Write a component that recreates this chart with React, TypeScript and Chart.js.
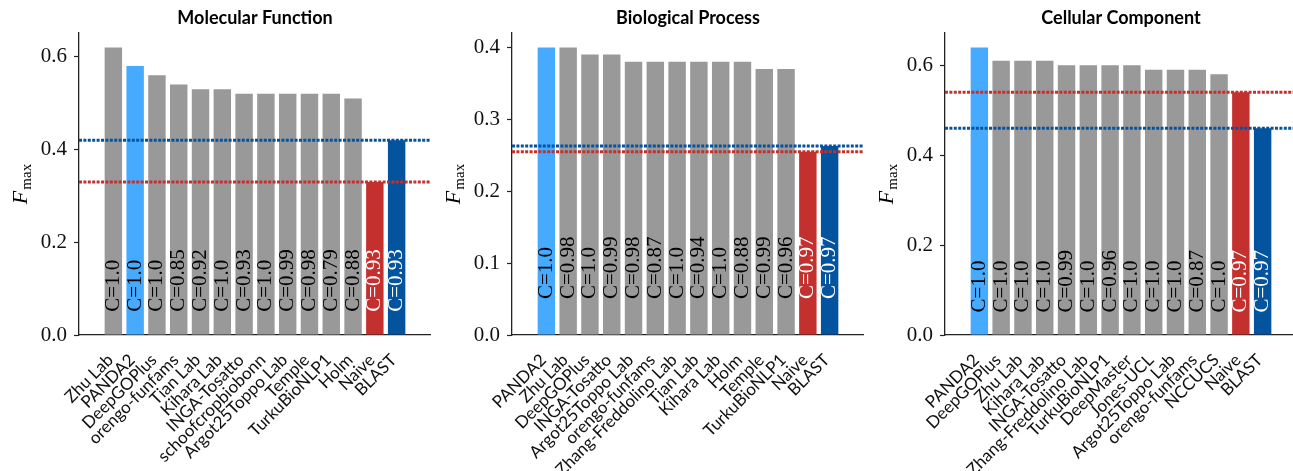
import React, { useEffect, useRef } from "react";
import { Chart, registerables } from "chart.js";
Chart.register(...registerables);

// ---------- data ----------
const mfMethods = ["Zhu Lab", "PANDA2", "DeepGOPlus", "orengo-funfams", "Tian Lab", "Kihara Lab", "INGA-Tosatto", "schoofcropbiobonn", "Argot25Toppo Lab", "Temple", "TurkuBioNLP1", "Holm", "Naive", "BLAST"];
const mfFmax = [0.62, 0.58, 0.56, 0.54, 0.53, 0.53, 0.52, 0.52, 0.52, 0.52, 0.52, 0.51, 0.33, 0.42];
const mfCoverage = ["1.0", "1.0", "1.0", "0.85", "0.92", "1.0", "0.93", "1.0", "0.99", "0.98", "0.79", "0.88", "0.93", "0.93"];
const mfTicks = [0, 0.2, 0.4, 0.6];

const bpMethods = ["PANDA2", "Zhu Lab", "DeepGOPlus", "INGA-Tosatto", "Argot25Toppo Lab", "orengo-funfams", "Zhang-Freddolino Lab", "Tian Lab", "Kihara Lab", "Holm", "Temple", "TurkuBioNLP1", "Naive", "BLAST"];
const bpFmax = [0.4, 0.4, 0.39, 0.39, 0.38, 0.38, 0.38, 0.38, 0.38, 0.38, 0.37, 0.37, 0.255, 0.263];
const bpCoverage = ["1.0", "0.98", "1.0", "0.99", "0.98", "0.87", "1.0", "0.94", "1.0", "0.88", "0.99", "0.96", "0.97", "0.97"];
const bpTicks = [0, 0.1, 0.2, 0.3, 0.4];

const ccMethods = ["PANDA2", "DeepGOPlus", "Zhu Lab", "Kihara Lab", "INGA-Tosatto", "Zhang-Freddolino Lab", "TurkuBioNLP1", "DeepMaster", "Jones-UCL", "Argot25Toppo Lab", "orengo-funfams", "NCCUCS", "Naive", "BLAST"];
const ccFmax = [0.64, 0.61, 0.61, 0.61, 0.6, 0.6, 0.6, 0.6, 0.59, 0.59, 0.59, 0.58, 0.54, 0.46];
const ccCoverage = ["1.0", "1.0", "1.0", "1.0", "0.99", "1.0", "0.96", "1.0", "1.0", "1.0", "0.87", "1.0", "0.97", "0.97"];
const ccTicks = [0, 0.2, 0.4, 0.6];

// ---------- styles ----------
const GRAY = "#999999";
const PANDA_BLUE = "#46aaff";
const NAIVE_RED = "#c4302e";
const BLAST_BLUE = "#03539e";
const AXIS = "#222222";
const SERIF = "'Liberation Serif', 'DejaVu Serif', serif";
const SANS = "Lato, 'Liberation Sans', sans-serif";

const Y_AXIS_W = 79;
const PLOT_W = 352;
const CANVAS_W = Y_AXIS_W + PLOT_W;
const CANVAS_H = 471;
const PLOT_TOP = 33;
const PLOT_BOTTOM = 335;

function colorFor(name: string) {
  if (name === "PANDA2") return PANDA_BLUE;
  if (name === "Naive") return NAIVE_RED;
  if (name === "BLAST") return BLAST_BLUE;
  return GRAY;
}

type PanelProps = {
  title: string;
  methods: string[];
  fmax: number[];
  coverage: string[];
  ticks: number[];
  left: number;
};

function Panel({ title, methods, fmax, coverage, ticks, left }: PanelProps) {
  const ref = useRef<HTMLCanvasElement | null>(null);
  useEffect(() => {
    const canvas = ref.current;
    if (!canvas) return;
    const yMax = Math.max(...fmax) * 1.05;
    const naiveVal = fmax[methods.indexOf("Naive")];
    const blastVal = fmax[methods.indexOf("BLAST")];

    const overlay = {
      id: "overlay",
      afterDatasetsDraw(chart: any) {
        const { ctx, chartArea, scales } = chart;
        const ys = scales.y;
        const drawLine = (v: number, color: string) => {
          const py = ys.getPixelForValue(v);
          ctx.save();
          ctx.strokeStyle = color;
          ctx.lineWidth = 3;
          ctx.setLineDash([3, 1.4]);
          ctx.beginPath();
          ctx.moveTo(chartArea.left, py);
          ctx.lineTo(chartArea.right, py);
          ctx.stroke();
          ctx.restore();
        };
        drawLine(blastVal, BLAST_BLUE);
        drawLine(naiveVal, NAIVE_RED);
        const meta = chart.getDatasetMeta(0);
        const yText = ys.getPixelForValue(0.05);
        meta.data.forEach((bar: any, i: number) => {
          const name = methods[i];
          ctx.save();
          ctx.translate(bar.x - 1, yText);
          ctx.rotate(-Math.PI / 2);
          ctx.font = `21px ${SERIF}`;
          ctx.fillStyle = name === "Naive" || name === "BLAST" ? "#ffffff" : "#000000";
          ctx.textAlign = "left";
          ctx.textBaseline = "middle";
          ctx.fillText("C=" + coverage[i], 0, 1);
          ctx.restore();
        });
      },
      afterDraw(chart: any) {
        const { ctx, chartArea } = chart;
        ctx.save();
        ctx.font = `bold 18px ${SANS}`;
        ctx.fillStyle = "#000";
        ctx.textAlign = "center";
        ctx.textBaseline = "middle";
        ctx.fillText(title, (chartArea.left + chartArea.right) / 2, 18);
        ctx.restore();
        ctx.save();
        const cx = chartArea.left - 57;
        const cy = (chartArea.top + chartArea.bottom) / 2;
        ctx.translate(cx, cy);
        ctx.rotate(-Math.PI / 2);
        ctx.fillStyle = "#000";
        ctx.textBaseline = "alphabetic";
        ctx.textAlign = "left";
        const fFont = `italic 22px ${SERIF}`;
        const sFont = `15px ${SERIF}`;
        ctx.font = fFont;
        const wF = ctx.measureText("F").width;
        ctx.font = sFont;
        const wS = ctx.measureText("max").width;
        const total = wF + wS + 1;
        ctx.font = fFont;
        ctx.fillText("F", -total / 2, 5);
        ctx.font = sFont;
        ctx.fillText("max", -total / 2 + wF + 1, 9);
        ctx.restore();
      },
    };

    const chart = new Chart(canvas, {
      type: "bar",
      data: {
        datasets: [
          {
            data: fmax.map((v, i) => ({ x: i, y: v })),
            backgroundColor: methods.map(colorFor),
            borderWidth: 0,
            barPercentage: 0.8,
            categoryPercentage: 1,
          },
        ],
      },
      options: {
        responsive: false,
        animation: false,
        devicePixelRatio: 1,
        layout: { padding: { top: PLOT_TOP, left: 0, right: 0, bottom: 0 } },
        plugins: { legend: { display: false }, tooltip: { enabled: false }, title: { display: false } },
        scales: {
          x: {
            type: "linear",
            min: -1,
            max: methods.length,
            afterBuildTicks: (scale: any) => {
              scale.ticks = methods.map((_, i) => ({ value: i }));
            },
            afterFit: (scale: any) => {
              scale.height = CANVAS_H - PLOT_BOTTOM;
            },
            grid: { display: false },
            border: { display: true, color: AXIS, width: 1.3 },
            ticks: {
              autoSkip: false,
              minRotation: 45,
              maxRotation: 45,
              padding: 7,
              labelOffset: -3,
              color: "#111",
              font: { family: SANS, size: 17 },
              callback: (v: any) => methods[Math.round(Number(v))] ?? "",
            },
          },
          y: {
            type: "linear",
            min: 0,
            max: yMax,
            afterBuildTicks: (scale: any) => {
              scale.ticks = ticks.map((t) => ({ value: t }));
            },
            afterFit: (scale: any) => {
              scale.width = Y_AXIS_W;
            },
            grid: { display: true, drawOnChartArea: false, drawTicks: true, tickLength: 5, color: AXIS, tickWidth: 1.2 },
            border: { display: true, color: AXIS, width: 1.3 },
            ticks: {
              padding: 7,
              color: "#111",
              font: { family: SERIF, size: 21 },
              callback: (v: any) => Number(v).toFixed(1),
            },
          },
        },
      },
      plugins: [overlay],
    } as any);
    return () => chart.destroy();
  }, [title, methods, fmax, coverage, ticks]);

  return (
    <canvas
      ref={ref}
      width={CANVAS_W}
      height={CANVAS_H}
      style={{ position: "absolute", left, top: 0, width: CANVAS_W, height: CANVAS_H }}
    />
  );
}

export default function App() {
  return (
    <div
      style={{
        position: "fixed",
        left: 0,
        top: 0,
        width: 1293,
        height: 471,
        overflow: "hidden",
        background: "#fff",
      }}
    >
      <Panel title="Molecular Function" methods={mfMethods} fmax={mfFmax} coverage={mfCoverage} ticks={mfTicks} left={0} />
      <Panel title="Biological Process" methods={bpMethods} fmax={bpFmax} coverage={bpCoverage} ticks={bpTicks} left={433} />
      <Panel title="Cellular Component" methods={ccMethods} fmax={ccFmax} coverage={ccCoverage} ticks={ccTicks} left={866} />
    </div>
  );
}
